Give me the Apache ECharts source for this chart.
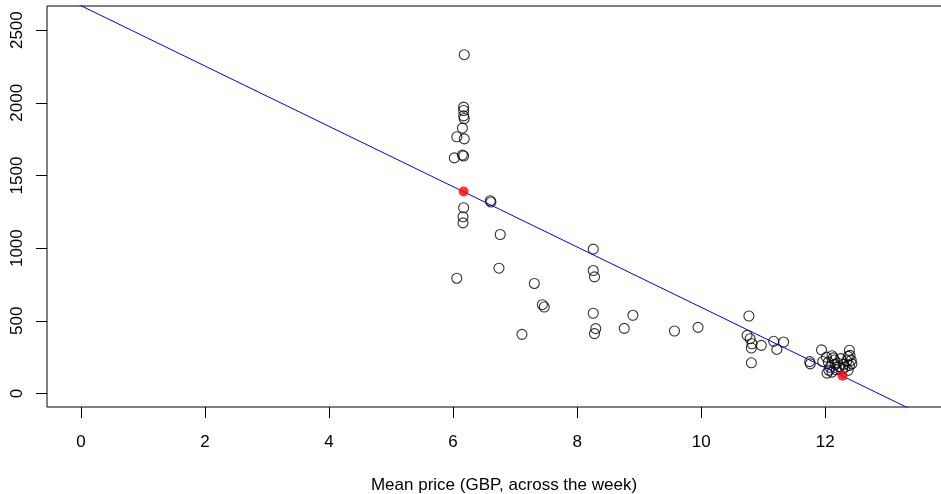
<!DOCTYPE html>
<html>
<head>
<meta charset="utf-8">
<script src="https://cdn.jsdelivr.net/npm/echarts@6/dist/echarts.min.js"></script>
<style>html,body{margin:0;padding:0;background:#fff;overflow:hidden;width:941px;height:494px}#c{width:961px;height:494px}</style>
</head>
<body>
<div id="c"></div>
<script>
// Observed points: mean price (GBP) and quantity
const priceX = [6.18,6.17,6.17,6.17,6.18,6.15,6.06,6.18,6.15,6.17,6.02,6.60,6.61,6.17,6.16,6.16,6.76,6.74,6.06,7.31,7.44,7.47,7.11,
  8.26,8.26,8.28,8.26,8.30,8.28,8.90,8.76,9.57,9.95,
  10.77,10.74,10.79,10.82,10.81,10.97,11.17,11.33,11.22,10.81,11.75,11.76,
  11.94,11.96,12.02,12.05,12.06,12.08,12.11,12.13,12.15,12.16,12.18,12.20,12.22,12.25,12.30,12.32,12.35,12.37,12.39,12.40,12.42,12.43,12.39,12.37,12.03,12.11,12.28];
const quantityY = [2331,1970,1947,1910,1892,1826,1766,1752,1640,1634,1621,1326,1317,1278,1216,1174,1094,862,793,757,611,595,407,
  993,846,802,552,446,412,538,448,430,455,
  533,400,377,342,313,331,359,354,303,211,219,204,
  300,220,250,216,160,180,260,245,230,200,163,210,185,240,200,181,225,255,297,262,228,204,193,159,140,147,170];
// Highlighted (predicted) points
const redX = [6.17, 12.28];
const redY = [1390, 122];
// Fitted regression line
const intercept = 2668;
const slope = -207.5;
const lineX = [-1, 15];
// Tick values
const xTicks = [0,2,4,6,8,10,12,14];
const yTicks = [0,500,1000,1500,2000,2500];

const pts = priceX.map((x,i)=>[x, quantityY[i]]);
const reds = redX.map((x,i)=>[x, redY[i]]);
const linePts = lineX.map(x=>[x, intercept + slope*x]);

const chart = echarts.init(document.getElementById('c'), null, {renderer:'canvas', width:961, height:494});
const font = 'Liberation Sans, Arial, sans-serif';
chart.setOption({
  animation:false,
  backgroundColor:'#fff',
  grid:{left:47, top:6, bottom:87, right:0, containLabel:false, outerBoundsMode:'none',
        show:true, borderColor:'#000', borderWidth:1, backgroundColor:'transparent'},
  xAxis:{
    type:'value', min:-0.548, max:14.19,
    axisLine:{show:false, onZero:false},
    splitLine:{show:false},
    axisTick:{show:true, inside:false, length:11, customValues:xTicks, lineStyle:{color:'#000', width:1}},
    axisLabel:{customValues:xTicks, color:'#000', fontSize:17, fontFamily:font, margin:27, formatter:v=>String(v)},
    name:'Mean price (GBP, across the week)', nameLocation:'middle', nameGap:70,
    nameTextStyle:{color:'#000', fontSize:17, fontFamily:font}
  },
  yAxis:{
    type:'value', min:-93, max:2666,
    axisLine:{show:false, onZero:false},
    splitLine:{show:false},
    axisTick:{show:true, inside:false, length:11, customValues:yTicks, lineStyle:{color:'#000', width:1}},
    axisLabel:{customValues:yTicks, color:'#000', fontSize:17, fontFamily:font, rotate:90, margin:21, formatter:v=>String(v)}
  },
  series:[
    {type:'scatter', data:pts, symbol:'circle', symbolSize:10,
     itemStyle:{color:'rgba(0,0,0,0)', borderColor:'#000', borderWidth:1.1}, z:2, silent:true},
    {type:'line', data:linePts, symbol:'none', clip:true,
     lineStyle:{color:'#0000ff', width:1}, z:3, silent:true},
    {type:'scatter', data:reds, symbol:'circle', symbolSize:10,
     itemStyle:{color:'#ff0000'}, z:4, silent:true}
  ]
});
</script>
</body>
</html>
